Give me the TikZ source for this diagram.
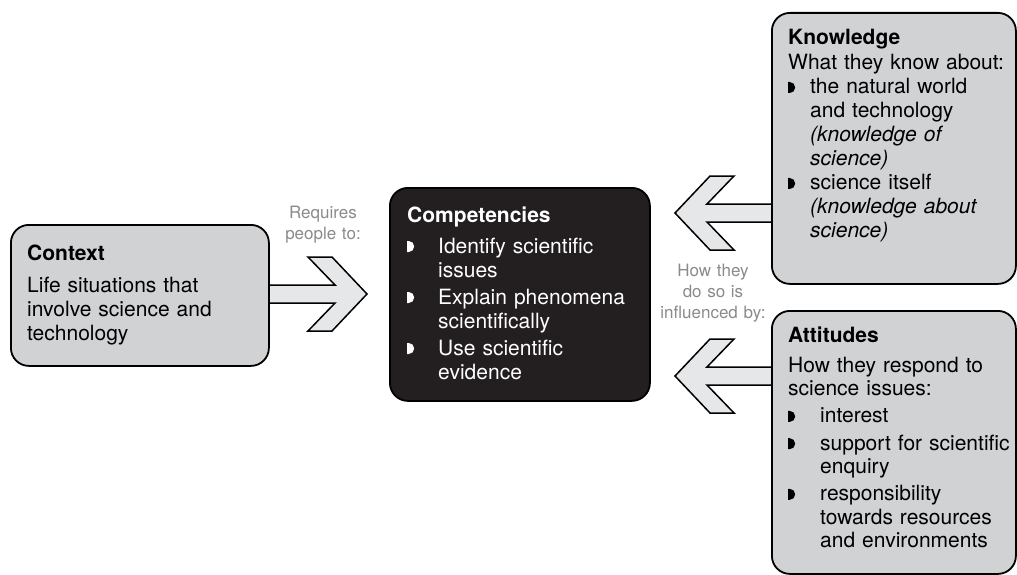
\documentclass[tikz,border=0pt]{standalone}
\usepackage{fontspec}
\setmainfont{TeX Gyre Heros}
\usetikzlibrary{backgrounds,calc}

\definecolor{boxgray}{HTML}{D1D2D4}
\definecolor{arrowgray}{HTML}{E6E7E8}
\definecolor{boxblack}{HTML}{231F20}
\definecolor{notegray}{HTML}{8A8A8C}

% small D-shaped bullet
\newcommand{\bul}{\tikz[x=1pt,y=1pt,baseline=-1pt]\fill (0,0) -- (0,11) -- (1.5,11) arc[start angle=90,end angle=-90,radius=5.5] -- cycle;}
\newcommand{\boxtitle}[2]{\textbf{#1}\par\vspace{#2pt}}
\newcommand{\bitem}[3]{\par\vspace{#2pt}\noindent\hangindent=#1pt\hangafter=1\makebox[#1pt][l]{\bul}#3\par}
% block arrow: shaft start, tip, direction (1 right, -1 left)
\newcommand{\blockarrow}[3]{%
\draw[fatarrow] ($(#1)+(0,-9)$) -- ($(#2)+({-32*(#3)},-9)$) -- ($(#2)+({-59*(#3)},-37)$)
 -- ($(#2)+({-35*(#3)},-37)$) -- (#2) -- ($(#2)+({-35*(#3)},37)$) -- ($(#2)+({-59*(#3)},37)$)
 -- ($(#2)+({-32*(#3)},9)$) -- ($(#1)+(0,9)$) -- cycle;}

\begin{document}
\begin{tikzpicture}[x=1pt,y=-1pt,
  box/.style={draw, line width=1.8pt, rounded corners=18pt, fill=boxgray, anchor=north west, inner sep=0pt},
  darkbox/.style={box, fill=boxblack},
  boxtext/.style={anchor=base west, inner sep=0pt, text width=#1, font=\fontsize{21}{24}\selectfont},
  note/.style={anchor=base, inner sep=0pt, text width=130pt, align=center, text=notegray, font=\fontsize{17}{21}\selectfont},
  fatarrow/.style={draw, line width=1.5pt, fill=arrowgray, line join=miter}]
\useasboundingbox (0,0) rectangle (1017,575);

% boxes
\node[box, minimum width=258, minimum height=141] (context) at (10,224) {};
\node[darkbox, minimum width=260, minimum height=213] (comp) at (389,187) {};
\node[box, minimum width=244, minimum height=271] (knowledge) at (771,12) {};
\node[box, minimum width=244, minimum height=263] (attitudes) at (771,310) {};

\node[boxtext=235pt] (contexttext) at ([shift={(17,36)}]context.north west)
  {\boxtitle{Context}{8}Life situations that\newline involve science and\newline technology};
\node[boxtext=240pt, text=white] (comptext) at ([shift={(18,35)}]comp.north west)
  {\boxtitle{Competencies}{4}%
   \bitem{31}{3}{Identify scientific\newline issues}%
   \bitem{31}{3}{Explain phenomena\newline scientifically}%
   \bitem{31}{3}{Use scientific\newline evidence}};
\node[boxtext=225pt] (knowtext) at ([shift={(17,33)}]knowledge.north west)
  {\boxtitle{Knowledge}{1}What they know about:%
   \bitem{22}{0}{the natural world\newline and technology\newline \textit{(knowledge of\newline science)}}%
   \bitem{22}{0}{science itself\newline \textit{(knowledge about\newline science)}}};
\node[boxtext=235pt, font=\fontsize{21}{23.3}\selectfont] (atttext) at ([shift={(17,32)}]attitudes.north west)
  {\boxtitle{Attitudes}{7}How they respond to\newline science issues:%
   \bitem{32}{4}{interest}%
   \bitem{32}{4}{support for scientific\newline enquiry}%
   \bitem{32}{4}{responsibility\newline towards resources\newline and environments}};

% labels
\node[note] (requires) at (323,218) {Requires\\people to:};
\node[note] (influenced) at (713,276) {How they\\do so is\\influenced by:};

% arrows
\coordinate (tipA) at (367,294);
\coordinate (tipB) at (675,213);
\coordinate (tipC) at (675,376);
\coordinate (startA) at ($(context.east |- tipA)+(-3,0)$);
\coordinate (startB) at ($(knowledge.west |- tipB)+(3,0)$);
\coordinate (startC) at ($(attitudes.west |- tipC)+(3,0)$);
\begin{scope}[on background layer]
\blockarrow{startA}{tipA}{1}
\blockarrow{startB}{tipB}{-1}
\blockarrow{startC}{tipC}{-1}
\end{scope}
\end{tikzpicture}
\end{document}
